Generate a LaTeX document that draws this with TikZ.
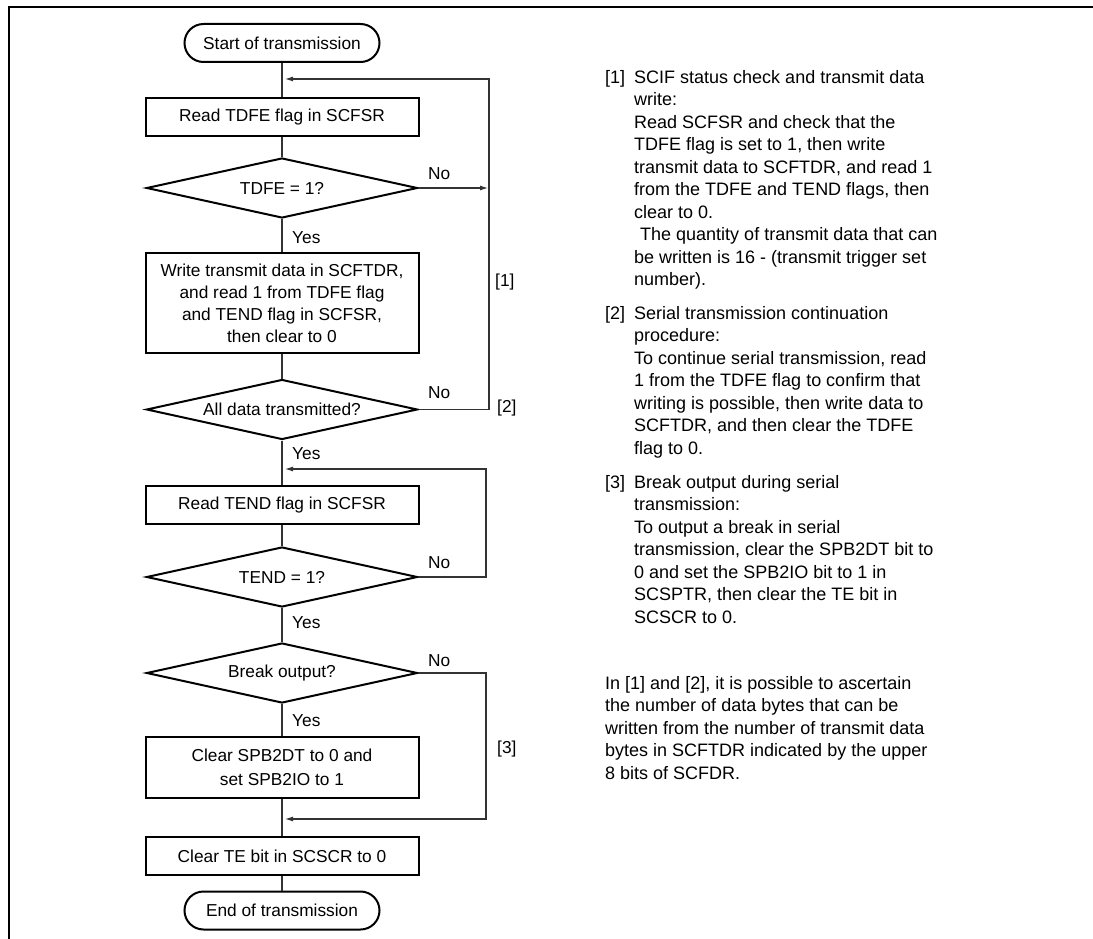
\documentclass[tikz,border=0pt]{standalone}
\usepackage{fontspec}
\setmainfont{Liberation Sans}
\usetikzlibrary{shapes.geometric,arrows.meta}
\begin{document}
\begin{tikzpicture}[x=1pt,y=-1pt,
  fc/.style={font=\fontsize{17.3}{22}\selectfont},
  box/.style={fc,draw=black,line width=2pt,minimum width=273pt,minimum height=38pt,inner sep=2pt,align=center},
  term/.style={fc,draw=black,line width=2pt,rounded corners=19pt,minimum width=195pt,minimum height=38pt,inner sep=0pt},
  dec/.style={fc,draw=black,line width=2pt,diamond,aspect=4.5,minimum width=271pt,minimum height=60pt,inner sep=0pt},
  conn/.style={draw=black!80,line width=1.1pt},
  arr/.style={conn,-{Latex[length=8pt,width=5pt]}},
  lbl/.style={fc,inner sep=0pt},
  note/.style={anchor=north west,inner sep=0pt,align=left,font=\fontsize{18}{22.5}\selectfont}
]
\useasboundingbox (0,0) rectangle (1093,939);
% frame
\draw[line width=2.5pt] (9,939) -- (9,7) -- (1093,7);

% flowchart nodes
\node[term] (start) at (282,43) {Start of transmission};
\node[box] (b1) at (282,117) {Read TDFE flag in SCFSR};
\node[dec] (d1) at (282,188) {TDFE = 1?};
\node[box,minimum height=100pt] (b2) at (282,303) {Write transmit data in SCFTDR,\\ and read 1 from TDFE flag\\ and TEND flag in SCFSR,\\ then clear to 0};
\node[dec] (d2) at (282,409.5) {All data transmitted?};
\node[box] (b3) at (282,505) {Read TEND flag in SCFSR};
\node[dec] (d3) at (282,577) {TEND = 1?};
\node[dec] (d4) at (282,673) {Break output?};
\node[box,minimum height=61pt,font=\fontsize{17.3}{24}\selectfont] (b4) at (282,767.5) {Clear SPB2DT to 0 and\\ set SPB2IO to 1};
\node[box] (b5) at (282,856) {Clear TE bit in SCSCR to 0};
\node[term] (stop) at (282,910.5) {End of transmission};

% main flow
\draw[conn] (start) -- (b1);
\draw[conn] (b1) -- (d1);
\draw[conn] (d1) -- (b2);
\draw[conn] (b2) -- (d2);
\draw[conn] (d2) -- (b3);
\draw[conn] (b3) -- (d3);
\draw[conn] (d3) -- (d4);
\draw[conn] (d4) -- (b4);
\draw[conn] (b4) -- (b5);
\draw[conn] (b5) -- (stop);

% loops
\coordinate (e1) at (488,188);
\coordinate (r1b) at (489,409.5);
\coordinate (r1t) at (489,79);
\coordinate (m1) at (285,79);
\draw[arr] (d1.east) -- (e1);
\draw[arr] (d2.east) -- (r1b) -- (r1t) -- (m1);

\coordinate (r2b) at (486,577);
\coordinate (r2t) at (486,469);
\coordinate (m2) at (285,469);
\draw[arr] (d3.east) -- (r2b) -- (r2t) -- (m2);

\coordinate (r3t) at (486,673);
\coordinate (r3b) at (486,819);
\coordinate (m3) at (285,819);
\draw[arr] (d4.east) -- (r3t) -- (r3b) -- (m3);

% labels
\node[lbl,anchor=west] (no1) at (428,174) {No};
\node[lbl,anchor=west] (no2) at (428,393) {No};
\node[lbl,anchor=west] (no3) at (428,563) {No};
\node[lbl,anchor=west] (no4) at (428,661) {No};
\node[lbl,anchor=west] (y1) at (292,238) {Yes};
\node[lbl,anchor=west] (y2) at (292,454) {Yes};
\node[lbl,anchor=west] (y3) at (292,623) {Yes};
\node[lbl,anchor=west] (y4) at (292,721) {Yes};
\node[lbl,anchor=west] (t1) at (495,282) {[1]};
\node[lbl,anchor=west] (t2) at (497,408) {[2]};
\node[lbl,anchor=west] (t3) at (497,749) {[3]};

% notes
\node[note] (k1) at (605,67.25) {\strut [1]};
\node[note] (p1) at (634,67.25) {\strut SCIF status check and transmit data\\
write:\\
Read SCFSR and check that the\\
TDFE flag is set to 1, then write\\
transmit data to SCFTDR, and read 1\\
from the TDFE and TEND flags, then\\
clear to 0.\\
\hspace*{6pt}The quantity of transmit data that can\\
be written is 16 - (transmit trigger set\\
number).};
\node[note] (k2) at (605,303.25) {\strut [2]};
\node[note] (p2) at (634,303.25) {\strut Serial transmission continuation\\
procedure:\\
To continue serial transmission, read\\
1 from the TDFE flag to confirm that\\
writing is possible, then write data to\\
SCFTDR, and then clear the TDFE\\
flag to 0.};
\node[note] (k3) at (605,472.25) {\strut [3]};
\node[note] (p3) at (634,472.25) {\strut Break output during serial\\
transmission:\\
To output a break in serial\\
transmission, clear the SPB2DT bit to\\
0 and set the SPB2IO bit to 1 in\\
SCSPTR, then clear the TE bit in\\
SCSCR to 0.};
\node[note] (p4) at (605,673.25) {\strut In [1] and [2], it is possible to ascertain\\
the number of data bytes that can be\\
written from the number of transmit data\\
bytes in SCFTDR indicated by the upper\\
8 bits of SCFDR.};
\end{tikzpicture}
\end{document}
